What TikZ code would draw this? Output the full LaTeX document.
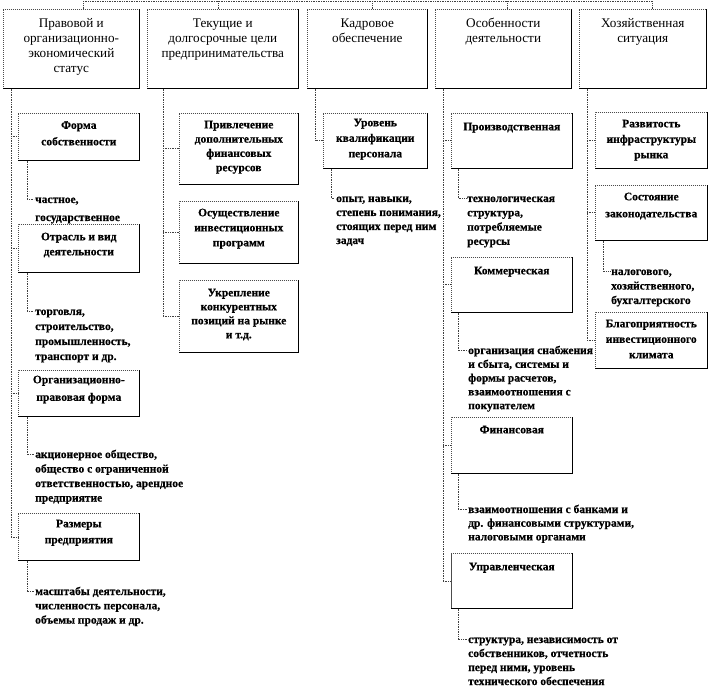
\documentclass[tikz,border=0pt]{standalone}
\usepackage{fontspec}
\setmainfont{Liberation Serif}
\newfontfamily\hvy{Liberation Serif}[FakeBold=0.5]
\newcommand\bxc[5]{\parbox[c][#2pt][t]{#1pt}{\centering\baselineskip=#4pt\rule{0pt}{#3pt}#5\par}}
\newcommand\dsc[2]{\vtop{\baselineskip=#1pt\halign{##\hfil\cr#2\crcr}}}
\tikzset{
  tbox/.style={inner sep=0pt, anchor=north west, draw=black!70, line width=0.6pt,
    dash pattern=on 1.2pt off 0.8pt, font=\fontsize{13.2}{15}\selectfont},
  sbox/.style={tbox, font=\fontsize{11.5}{15}\selectfont\hvy\bfseries},
  desc/.style={inner sep=0pt, anchor=base west, font=\fontsize{11.5}{14.5}\selectfont\hvy\bfseries},
  conn/.style={draw=black!75, line width=0.6pt, dash pattern=on 0.8pt off 0.9pt},
  boxedge/.style={draw=black, line width=0.8pt}
}
\begin{document}
\begin{tikzpicture}[x=1pt,y=-1pt]
\useasboundingbox (0,0) rectangle (710,695);
% top boxes
\node[tbox] (t1) at (3,9)   {\bxc{136}{79}{18}{15}{Правовой и\\организационно-\\экономический\\статус}};
\node[tbox] (t2) at (147,9) {\bxc{151}{79}{18}{15}{Текущие и\\долгосрочные цели\\предпринимательства}};
\node[tbox] (t3) at (307,9) {\bxc{120}{79}{18}{15}{Кадровое\\обеспечение}};
\node[tbox] (t4) at (435,9) {\bxc{136}{79}{18}{15}{Особенности\\деятельности}};
\node[tbox] (t5) at (579,9) {\bxc{127}{79}{18}{15}{Хозяйственная\\ситуация}};
% column 1
\node[sbox] (fs) at (18,113) {\bxc{121}{47}{15.5}{16.5}{Форма\\собственности}};
\node[sbox] (ot) at (18,224) {\bxc{121}{48}{16}{15}{Отрасль и вид\\деятельности}};
\node[sbox] (op) at (18,370) {\bxc{121}{46}{13}{17.5}{Организационно-\\правовая форма}};
\node[sbox] (rz) at (18,513) {\bxc{121}{47}{14}{16}{Размеры\\предприятия}};
% column 2
\node[sbox] (pr) at (179,113) {\bxc{119}{71}{15}{14.3}{Привлечение\\дополнительных\\финансовых\\ресурсов}};
\node[sbox] (os) at (179,201) {\bxc{119}{62}{15}{15}{Осуществление\\инвестиционных\\программ}};
\node[sbox] (uk) at (179,280) {\bxc{119}{72}{16}{14}{Укрепление\\конкурентных\\позиций на рынке\\и т.д.}};
% column 3
\node[sbox] (ur) at (323,113) {\bxc{104}{55}{13}{15.5}{Уровень\\квалификации\\персонала}};
% column 4
\node[sbox] (pd) at (451,113) {\bxc{121}{55}{17}{15}{Производственная}};
\node[sbox] (km) at (451,257) {\bxc{121}{55}{17}{15}{Коммерческая}};
\node[sbox] (fn) at (451,417) {\bxc{121}{56}{16}{15}{Финансовая}};
\node[sbox] (up) at (451,553) {\bxc{121}{55}{17}{15}{Управленческая}};
% column 5
\node[sbox] (rv) at (595,112) {\bxc{112}{56}{15}{15.5}{Развитость\\инфраструктуры\\рынка}};
\node[sbox] (sz) at (595,185) {\bxc{112}{55}{15}{17}{Состояние\\законодательства}};
\node[sbox] (bl) at (595,312) {\bxc{112}{56}{15}{15.5}{Благоприятность\\инвестиционного\\климата}};
% solid bottom and right edges
\foreach \n in {t1,t2,t3,t4,t5,fs,ot,op,rz,pr,os,uk,ur,pd,km,fn,up,rv,sz,bl}
  \draw[boxedge] (\n.south west) -- (\n.south east) -- (\n.north east);
% descriptions
\node[desc] (d1) at (35,203) {\dsc{18}{частное,\cr государственное}};
\node[desc] (d2) at (35,315) {\dsc{15}{торговля,\cr строительство,\cr промышленность,\cr транспорт и др.}};
\node[desc] (d3) at (35,458) {\dsc{14.5}{акционерное общество,\cr общество с ограниченной\cr ответственностью, арендное\cr предприятие}};
\node[desc] (d4) at (35,595) {\dsc{14.3}{масштабы деятельности,\cr численность персонала,\cr объемы продаж и др.}};
\node[desc] (d5) at (336,202) {\dsc{14}{опыт, навыки,\cr степень понимания,\cr стоящих перед ним\cr задач}};
\node[desc] (d6) at (467,202) {\dsc{14.3}{технологическая\cr структура,\cr потребляемые\cr ресурсы}};
\node[desc] (d7) at (468,354) {\dsc{13.8}{организация снабжения\cr и сбыта, системы и\cr формы расчетов,\cr взаимоотношения с\cr покупателем}};
\node[desc] (d8) at (468,513) {\dsc{13.7}{взаимоотношения с банками и\cr др. финансовыми структурами,\cr налоговыми органами}};
\node[desc] (d9) at (468,643) {\dsc{14}{структура, независимость от\cr собственников, отчетность\cr перед ними, уровень\cr технического обеспечения}};
\node[desc] (d10) at (611,275) {\dsc{14.5}{налогового,\cr хозяйственного,\cr бухгалтерского}};
% top bus
\coordinate (b1) at (83,1.5);
\coordinate (b2) at (218,1.5);
\coordinate (b3) at (372,1.5);
\coordinate (b4) at (507,1.5);
\coordinate (b5) at (652,1.5);
\draw[conn] (b1) -- (b5);
\foreach \i in {1,...,5} \draw[conn] (b\i) -- (b\i |- t\i.north);
% column spines
\coordinate (v1) at ([xshift=8pt]t1.south west);
\coordinate (v2) at ([xshift=16pt]t2.south west);
\coordinate (v3) at ([xshift=8pt]t3.south west);
\coordinate (v4) at ([xshift=8pt]t4.south west);
\coordinate (v5) at ([xshift=8pt]t5.south west);
\draw[conn] (v1) -- (v1 |- rz.west);
\foreach \n in {fs,ot,op,rz} \draw[conn] (v1 |- \n.west) -- (\n.west);
\draw[conn] (v2) -- (v2 |- uk.west);
\foreach \n in {pr,os,uk} \draw[conn] (v2 |- \n.west) -- (\n.west);
\draw[conn] (v3) |- (ur.west);
\draw[conn] (v4) -- (v4 |- up.west);
\foreach \n in {pd,km,fn,up} \draw[conn] (v4 |- \n.west) -- (\n.west);
\draw[conn] (v5) -- (v5 |- bl.west);
\foreach \n in {rv,sz,bl} \draw[conn] (v5 |- \n.west) -- (\n.west);
% box to description
\draw[conn] ([xshift=9pt]fs.south west) |- ([xshift=-1pt,yshift=3.5pt]d1.base west);
\draw[conn] ([xshift=9pt]ot.south west) |- ([xshift=-1pt,yshift=3.5pt]d2.base west);
\draw[conn] ([xshift=9pt]op.south west) |- ([xshift=-1pt,yshift=3.5pt]d3.base west);
\draw[conn] ([xshift=9pt]rz.south west) |- ([xshift=-1pt,yshift=3.5pt]d4.base west);
\draw[conn] ([xshift=8pt]ur.south west) |- ([xshift=-1pt,yshift=3.5pt]d5.base west);
\draw[conn] ([xshift=7pt]pd.south west) |- ([xshift=-1pt,yshift=3.5pt]d6.base west);
\draw[conn] ([xshift=7pt]km.south west) |- ([xshift=-1pt,yshift=3.5pt]d7.base west);
\draw[conn] ([xshift=7pt]fn.south west) |- ([xshift=-1pt,yshift=3.5pt]d8.base west);
\draw[conn] ([xshift=7pt]up.south west) |- ([xshift=-1pt,yshift=3.5pt]d9.base west);
\draw[conn] ([xshift=8pt]sz.south west) |- ([xshift=-1pt,yshift=3.5pt]d10.base west);
\end{tikzpicture}
\end{document}
